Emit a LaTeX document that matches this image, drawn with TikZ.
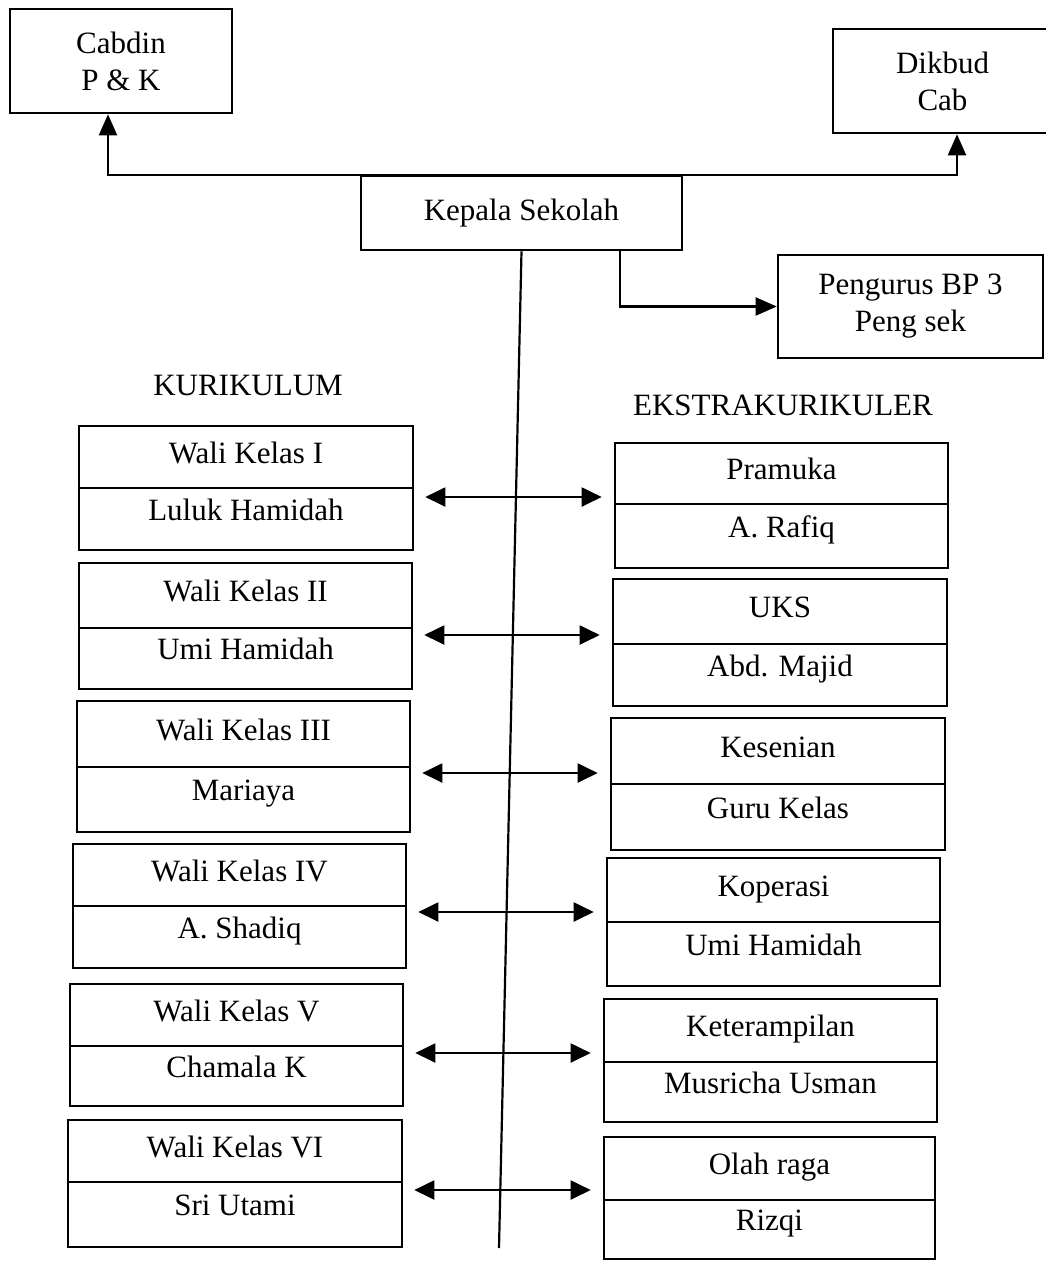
\documentclass[tikz,border=0pt]{standalone}
\usepackage{fontspec}
\setmainfont{Liberation Serif}
\usetikzlibrary{arrows.meta}
\begin{document}
\begin{tikzpicture}[x=1pt,y=-1pt,
  frame/.style={draw, line width=2.6pt, inner sep=0pt, align=center, font=\fontsize{31}{37}\selectfont},
  txt/.style={font=\fontsize{31}{37}\selectfont, inner sep=0pt, text height=22pt, text depth=6pt},
  conn/.style={line width=2.2pt},
  tip/.style={line width=2.2pt, -{Triangle[length=21pt,width=18pt]}},
  dbl/.style={line width=2pt, {Triangle[length=20pt,width=19pt]}-{Triangle[length=20pt,width=19pt]}}]
\useasboundingbox (0,0) rectangle (1045,1262);

% top boxes
\node[frame, minimum width=222pt, minimum height=104pt] (C) at (121,61) {Cabdin\\P \& K};
\node[frame, minimum width=219pt, minimum height=104pt] (D) at (942.5,81) {Dikbud\\Cab};
\node[frame, minimum width=321pt, minimum height=74pt] (K) at (521.5,213) {Kepala Sekolah};
\node[frame, minimum width=265pt, minimum height=103pt] (P) at (910.5,306.5) {Pengurus BP 3\\Peng sek};

\draw[tip] (K.north) -| ([xshift=-13pt]C.south);
\draw[tip] (K.north) -| ([xshift=14.5pt]D.south);
\draw[tip] ([xshift=98.5pt]K.south) |- (P.west);
\coordinate (bottomend) at (499,1248);
\draw[conn] (K.south) -- (bottomend);

% headings
\node[txt] (kur) at (248,387) {KURIKULUM};
\node[txt] (eks) at (783,407) {EKSTRAKURIKULER};

% two-part boxes
\foreach \n/\xa/\xb/\t/\d/\b/\sa/\sb in {
  L1/79/413/426/488/550/Wali Kelas I/Luluk Hamidah,
  L2/79/412/563/628/689/Wali Kelas II/Umi Hamidah,
  L3/77/410/701/767/832/Wali Kelas III/Mariaya,
  L4/73/406/844/906/968/Wali Kelas IV/A. Shadiq,
  L5/70/403/984/1046/1106/Wali Kelas V/Chamala K,
  L6/68/402/1120/1182/1247/Wali Kelas VI/Sri Utami,
  R1/615/948/443/504/568/Pramuka/A. Rafiq,
  R2/613/947/579/644/706/UKS/Abd. Majid,
  R3/611/945/718/784/850/Kesenian/Guru Kelas,
  R4/607/940/858/922/986/Koperasi/Umi Hamidah,
  R5/604/937/999/1062/1122/Keterampilan/Musricha Usman,
  R6/604/935/1137/1200/1259/Olah raga/Rizqi}
{
  \node[frame, minimum width={(\xb-\xa)*1pt}, minimum height={(\b-\t)*1pt}] (\n) at ({(\xa+\xb)/2},{(\t+\b)/2}) {};
  \draw[line width=2.2pt] (\n.west |- 0,\d) -- (\n.east |- 0,\d);
  \node[txt] (\n-a) at ({(\xa+\xb)/2},{(\t+\d)/2-2}) {\sa};
  \node[txt] (\n-b) at ({(\xa+\xb)/2},{(\d+\b)/2-7}) {\sb};
}

% double arrows
\foreach \n/\ay in {1/497,2/635,3/773,4/912,5/1053,6/1190}
  \draw[dbl, shorten <=11pt, shorten >=12pt] (L\n.east |- 0,\ay) -- (R\n.west |- 0,\ay);
\end{tikzpicture}
\end{document}
